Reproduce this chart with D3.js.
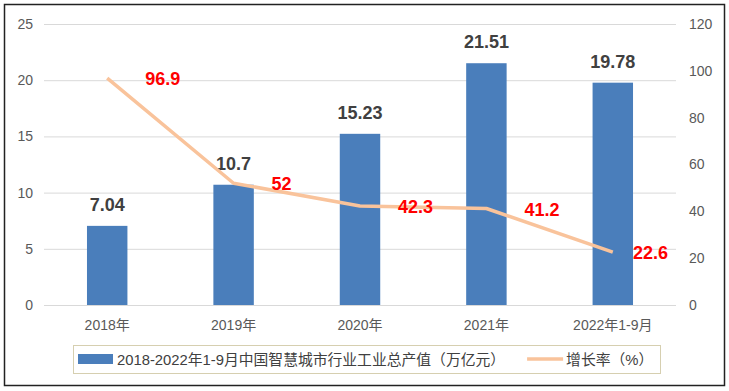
<!DOCTYPE html>
<html><head><meta charset="utf-8">
<script src="https://cdn.jsdelivr.net/npm/d3@7"></script>
<style>
html,body{margin:0;padding:0;background:#fff;}
svg{display:block;}
text{font-family:"Liberation Sans","Noto Sans CJK SC",sans-serif;}
</style></head>
<body><svg id="c" width="729" height="391"></svg>
<script>
const categories = ["2018年","2019年","2020年","2021年","2022年1-9月"];
const outputValues = [7.04, 10.7, 15.23, 21.51, 19.78];
const growthRates = [96.9, 52, 42.3, 41.2, 22.6];
const leftTicks = [0,5,10,15,20,25];
const rightTicks = [0,20,40,60,80,100,120];
const barSeriesName = "2018-2022年1-9月中国智慧城市行业工业总产值（万亿元）";
const lineSeriesName = "增长率（%）";

const svg = d3.select("#c");
const m = {left:44, right:676, top:24, bottom:305};

// outer frame
svg.append("rect").attr("x",4.5).attr("y",4.5).attr("width",720).attr("height",381)
  .attr("fill","#fff").attr("stroke","#222").attr("stroke-width",1.5);

const x = d3.scaleBand().domain(categories).range([m.left, m.right]).paddingInner(0.68).paddingOuter(0.34);
const yL = d3.scaleLinear().domain([0,25]).range([m.bottom, m.top]);
const yR = d3.scaleLinear().domain([0,120]).range([m.bottom, m.top]);

// gridlines
const grid = svg.append("g").attr("transform",`translate(${m.left},0)`)
  .call(d3.axisLeft(yL).tickValues(leftTicks).tickSize(-(m.right-m.left)).tickFormat(""));
grid.select(".domain").remove();
grid.selectAll("line").attr("stroke","#d9d9d9").attr("stroke-width",1);

// left axis labels
const la = svg.append("g").attr("transform",`translate(${m.left-11},0)`)
  .call(d3.axisLeft(yL).tickValues(leftTicks).tickSize(0).tickPadding(0));
la.select(".domain").remove();
la.selectAll("text").attr("font-size",14).attr("fill","#595959").attr("font-family","Liberation Sans, sans-serif");

// right axis labels
const ra = svg.append("g").attr("transform",`translate(${m.right+13},0)`)
  .call(d3.axisRight(yR).tickValues(rightTicks).tickSize(0).tickPadding(0));
ra.select(".domain").remove();
ra.selectAll("text").attr("font-size",14).attr("fill","#595959").attr("font-family","Liberation Sans, sans-serif");

// bottom axis labels
const ba = svg.append("g").attr("transform",`translate(0,${m.bottom})`)
  .call(d3.axisBottom(x).tickSize(0).tickPadding(15));
ba.select(".domain").remove();
ba.selectAll("text").attr("font-size",14).attr("fill","#595959");

// bars
svg.append("g").selectAll("rect").data(outputValues).join("rect")
  .attr("x",(d,i)=>x(categories[i]))
  .attr("width",x.bandwidth())
  .attr("y",d=>yL(d))
  .attr("height",d=>yL(0)-yL(d))
  .attr("fill","#4a7ebb");

// bar labels
svg.append("g").selectAll("text").data(outputValues).join("text")
  .attr("x",(d,i)=>x(categories[i])+x.bandwidth()/2)
  .attr("y",d=>yL(d)-15)
  .attr("text-anchor","middle")
  .attr("font-size",18).attr("font-weight","bold").attr("fill","#404040")
  .text(d=>d);

// line
const cx = (i)=>x(categories[i])+x.bandwidth()/2;
const line = d3.line().x((d,i)=>cx(i)).y(d=>yR(d));
svg.append("path").datum(growthRates).attr("d",line)
  .attr("fill","none").attr("stroke","#f9c39b").attr("stroke-width",3.5)
  .attr("stroke-linejoin","round");

// line labels
const ll = svg.append("g").selectAll("text").data(growthRates).join("text")
  .attr("y",d=>yR(d)+7)
  .attr("font-size",18).attr("font-weight","bold").attr("fill","#ff0000")
  .text(d=>d);
ll.each(function(d,i){
  const w = this.getComputedTextLength();
  let xs = cx(i)+38;
  if (xs + w > 668) xs = 668 - w;
  d3.select(this).attr("x",xs);
});

// legend
const lg = svg.append("g");
lg.append("rect").attr("x",73.5).attr("y",345.5).attr("width",587).attr("height",28)
  .attr("fill","#fff").attr("stroke","#d6cfb0").attr("stroke-width",1);
lg.append("rect").attr("x",78).attr("y",354).attr("width",35).attr("height",10).attr("fill","#4a7ebb");
const t1 = lg.append("text").attr("x",117).attr("y",364.5).attr("font-size",14.8).attr("fill","#404040").text(barSeriesName);
const t1end = 117 + t1.node().getComputedTextLength();
const sx = Math.max(t1end + 22, 524);
lg.append("line").attr("x1",sx).attr("x2",sx+36).attr("y1",359).attr("y2",359)
  .attr("stroke","#f9c39b").attr("stroke-width",3.5);
lg.append("text").attr("x",sx+39).attr("y",364.5).attr("font-size",14.8).attr("fill","#404040").text(lineSeriesName);
</script></body></html>
